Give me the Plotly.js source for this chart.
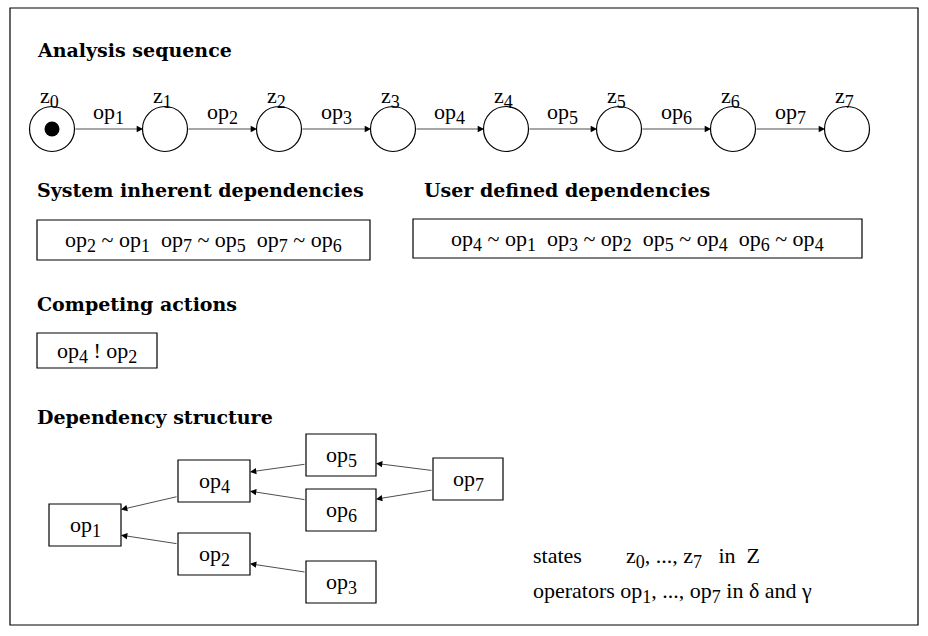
<!DOCTYPE html>
<html><head><meta charset="utf-8">
<script src="https://cdn.plot.ly/plotly-3.0.1.min.js"></script>
<style>body{margin:0;background:#fff}</style></head>
<body><div id="c" style="width:928px;height:636px"></div>
<script>
const states = ["z<sub>0</sub>","z<sub>1</sub>","z<sub>2</sub>","z<sub>3</sub>","z<sub>4</sub>","z<sub>5</sub>","z<sub>6</sub>","z<sub>7</sub>"];
const ops = ["op<sub>1</sub>","op<sub>2</sub>","op<sub>3</sub>","op<sub>4</sub>","op<sub>5</sub>","op<sub>6</sub>","op<sub>7</sub>"];
const systemDeps = "op<sub>2</sub> ~ op<sub>1</sub>  op<sub>7</sub> ~ op<sub>5</sub>  op<sub>7</sub> ~ op<sub>6</sub>";
const userDeps = "op<sub>4</sub> ~ op<sub>1</sub>  op<sub>3</sub> ~ op<sub>2</sub>  op<sub>5</sub> ~ op<sub>4</sub>  op<sub>6</sub> ~ op<sub>4</sub>";
const competing = "op<sub>4</sub> ! op<sub>2</sub>";
const depNodes = ["op1","op2","op3","op4","op5","op6","op7"];
const depEdges = [["op4","op1"],["op2","op1"],["op5","op4"],["op6","op4"],["op7","op5"],["op7","op6"],["op3","op2"]];

const stateX = [52,165,279,393,506,619,733,847], stateY = 129, R = 22;
const nodePos = {op1:[85,525,36,21],op2:[214,554,36,21],op3:[341,582,35,21],op4:[214,481,36,21],op5:[341,455,35,21],op6:[341,510,35,21],op7:[468,479,35,21]};
const F = "Liberation Serif, Times New Roman, serif";
const FB = "DejaVu Serif, serif";
const shapes = [{type:'rect',x0:10,y0:8,x1:918,y1:625,line:{color:'#000',width:1.2}}];
const ann = [];
function sub(t){return t.replace(/<sub>(.*?)<\/sub>/g,'<sub><span style="font-size:18px">$1</span></sub>');}
function txt(x,y,t,opts){ann.push(Object.assign({x:x,y:y,xref:'x',yref:'y',text:sub(t),showarrow:false,font:{family:F,size:22,color:'#000'}},opts||{}));}
function head(x,y,t){txt(x,y,"<b>"+t+"</b>",{xanchor:'left',font:{family:FB,size:19,color:'#000'}});}
function arrow(x0,y0,x1,y1){ann.push({x:x1,y:y1,ax:x0,ay:y0,xref:'x',yref:'y',axref:'x',ayref:'y',text:'',showarrow:true,arrowhead:2,arrowsize:1.8,arrowwidth:0.7,arrowcolor:'#000',standoff:0,startstandoff:0});}
function box(x0,y0,x1,y1){shapes.push({type:'rect',x0:x0,y0:y0,x1:x1,y1:y1,line:{color:'#000',width:1.2},fillcolor:'#fff'});}

head(35,50,"Analysis sequence");
head(35,190,"System inherent dependencies");
head(422,190,"User defined dependencies");
head(35,304,"Competing actions");
head(35,417,"Dependency structure");

states.forEach((s,i)=>txt(stateX[i]-3,97,s));
ops.forEach((o,i)=>{const a=stateX[i]+R,b=stateX[i+1]-R;txt((a+b)/2,113,o);arrow(a,stateY,b,stateY);});

box(37,220,370,260); txt(203,241,systemDeps);
box(413,219,862,258); txt(637,240,userDeps);
box(37,333,157,368); txt(97,352,competing);

depNodes.forEach(n=>{const p=nodePos[n];box(p[0]-p[2],p[1]-p[3],p[0]+p[2],p[1]+p[3]);txt(p[0],p[1]+1,"op<sub>"+n.slice(2)+"</sub>");});
depEdges.forEach(e=>{const a=nodePos[e[0]],b=nodePos[e[1]];
  const x0=a[0]-a[2], x1=b[0]+b[2];
  const dy=(b[1]-a[1]); const y0=a[1]+Math.max(-a[3]+4,Math.min(a[3]-4,dy*0.35)); const y1=b[1]-Math.max(-b[3]+4,Math.min(b[3]-4,dy*0.35));
  arrow(x0,y0,x1,y1);});

txt(531,557,"states        z<sub>0</sub>, ..., z<sub>7</sub>   in  Z",{xanchor:'left'});
txt(531,592,"operators op<sub>1</sub>, ..., op<sub>7</sub> in δ and γ",{xanchor:'left'});

const traces=[{x:stateX,y:stateX.map(()=>stateY),mode:'markers',type:'scatter',hoverinfo:'skip',
  marker:{size:2*R+1,color:'#fff',line:{color:'#000',width:1.2}}},
 {x:[stateX[0]],y:[stateY],mode:'markers',type:'scatter',hoverinfo:'skip',marker:{size:15,color:'#000',symbol:'circle'}}];

Plotly.newPlot('c',traces,{width:928,height:636,margin:{l:0,r:0,t:0,b:0},showlegend:false,
 paper_bgcolor:'#fff',plot_bgcolor:'#fff',
 xaxis:{range:[0,928],visible:false,fixedrange:true},
 yaxis:{range:[636,0],visible:false,fixedrange:true},
 shapes:shapes,annotations:ann},{staticPlot:true});
</script></body></html>
